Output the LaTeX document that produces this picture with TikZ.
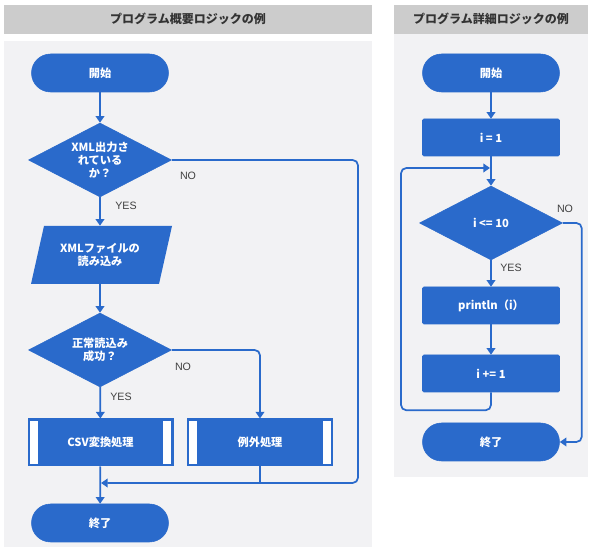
\documentclass[tikz,border=0pt]{standalone}
\usepackage{fontspec}
\setmainfont{Noto Sans CJK JP}
\newfontfamily\lblfont{Liberation Sans}
\usepackage{tikz}
\usetikzlibrary{arrows, arrows.meta, shapes.geometric, calc}
\definecolor{flowblue}{HTML}{2A6ACB}
\definecolor{headgray}{HTML}{CCCCCC}
\definecolor{panelgray}{HTML}{F2F2F4}
\definecolor{labelgray}{HTML}{404040}
\tikzset{
	flownode/.style={fill=flowblue, draw=flowblue, text=white, align=center, inner sep=0pt,
		font=\fontsize{8.4}{10}\selectfont\bfseries},
	terminal/.style={flownode, minimum width=102.75pt, minimum height=28.5pt, rounded corners=14.25pt},
	procbox/.style={flownode, minimum width=102.75pt, minimum height=27.75pt, rounded corners=1pt},
	decision/.style={flownode, diamond, shape aspect=2, minimum width=107.25pt, minimum height=55.5pt},
	predef/.style={flownode, line width=1.5pt, minimum width=108pt, minimum height=34.5pt,
		path picture={
			\fill[white] ([xshift=1pt,yshift=-1pt]path picture bounding box.north west) rectangle ([xshift=7pt,yshift=1pt]path picture bounding box.south west);
			\fill[white] ([xshift=-1pt,yshift=-1pt]path picture bounding box.north east) rectangle ([xshift=-7pt,yshift=1pt]path picture bounding box.south east);
		}},
	arr/.style={draw=flowblue, line width=1.3pt, -{Triangle[width=6.5pt,length=5pt]}},
	lnk/.style={draw=flowblue, line width=1.3pt, -},
	lbl/.style={text=labelgray, font=\lblfont\fontsize{8}{9}\selectfont},
	head/.style={text=black!80, font=\fontsize{9}{11}\selectfont\bfseries}
}
\begin{document}
\begin{tikzpicture}[x=0.75pt, y=-0.75pt]
	\useasboundingbox (0,0) rectangle (593,548);
	% panels
	\fill[headgray] (4,5) rectangle (372,34);
	\fill[panelgray] (4,41) rectangle (372,547);
	\fill[headgray] (394,5) rectangle (588,34);
	\fill[panelgray] (394,34) rectangle (588,477);
	\node[head] (title1) at (188,19) {プログラム概要ロジックの例};
	\node[head] (title2) at (491,19) {プログラム詳細ロジックの例};

	% left flow
	\node[terminal] (start1) at (100,73) {開始};
	\node[decision] (dec1) at (100,160) {XML出力さ\\れている\\か？};
	\fill[flowblue] (44,226) -- (172,226) -- (159,284) -- (31,284) -- cycle;
	\node[flownode, fill=none, draw=none, minimum width=96pt, minimum height=43.5pt] (read) at (100,255) {XMLファイルの\\読み込み};
	\node[decision] (dec2) at (100,350) {正常読込み\\成功？};
	\node[predef] (csv) at (100.5,442.5) {CSV変換処理};
	\node[predef] (exc) at (260,442.5) {例外処理};
	\node[terminal] (end1) at (100,523) {終了};
	\coordinate (merge) at (101,483);
	\coordinate (loopR) at (358,483);

	\draw[arr] (start1) -- (dec1);
	\draw[arr] (dec1) -- (read);
	\draw[arr] (read) -- (dec2);
	\draw[arr] (dec2) -- (csv);
	\draw[arr] (csv) -- (end1);
	\draw[arr, rounded corners=4pt] (dec1.east) -| (loopR) -- (merge);
	\draw[arr, rounded corners=4pt] (dec2.east) -| (exc);
	\draw[lnk] (exc.south) -- (exc.south |- merge);
	\node[lbl] (no1) at (188,176) {NO};
	\node[lbl] (yes1) at (126,206) {YES};
	\node[lbl] (no2) at (183,367) {NO};
	\node[lbl] (yes2) at (121,397) {YES};

	% right flow
	\node[terminal] (start2) at (491,73) {開始};
	\node[procbox] (init) at (491,137.5) {i = 1};
	\node[decision] (dec3) at (491,223) {i <= 10};
	\node[procbox] (print) at (491,305.5) {println（i）};
	\node[procbox] (incr) at (491,373.5) {i += 1};
	\node[terminal] (end2) at (491,442) {終了};
	\coordinate (loopIn) at (490,168);

	\draw[arr] (start2) -- (init);
	\draw[arr] (init) -- (dec3);
	\draw[arr] (dec3) -- (print);
	\draw[arr] (print) -- (incr);
	\draw[arr, rounded corners=4pt] (incr.south) -- ++(0,18) -| (401,168) -- (loopIn);
	\draw[arr, rounded corners=4pt] (dec3.east) -- ++(19,0) |- (end2);
	\node[lbl] (no3) at (565,209) {NO};
	\node[lbl] (yes3) at (511,268) {YES};
\end{tikzpicture}
\end{document}
